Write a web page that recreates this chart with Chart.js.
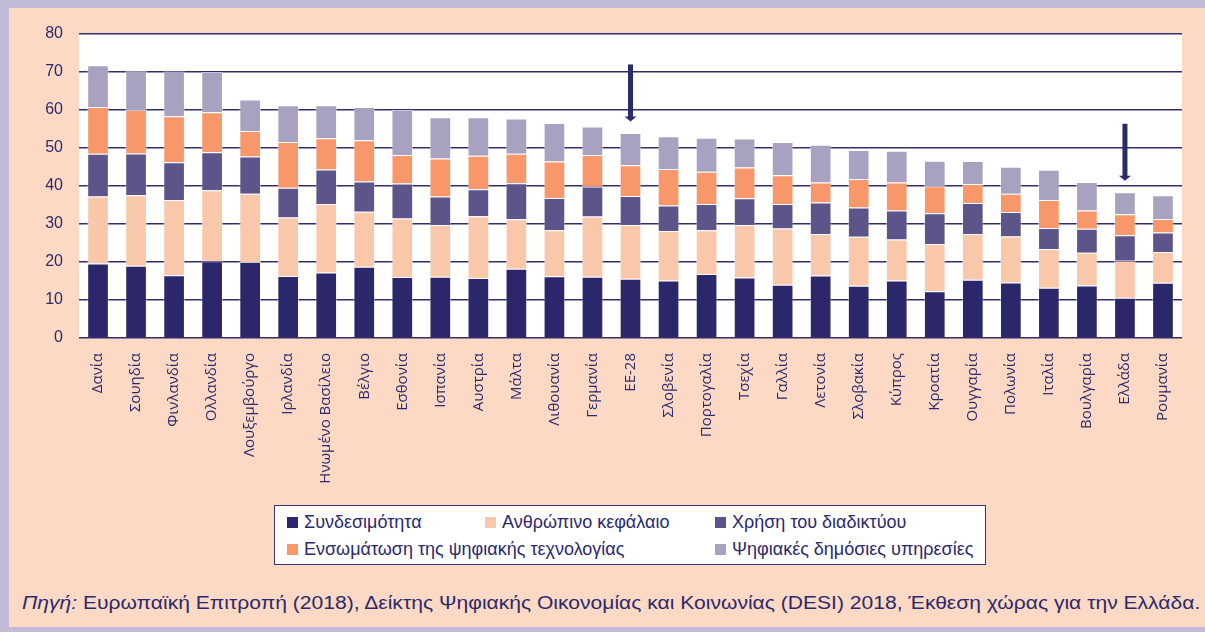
<!DOCTYPE html>
<html>

<head>
    <meta charset="utf-8">
    <title>DESI 2018</title>
    <script src="https://cdn.jsdelivr.net/npm/chart.js"></script>
    <style>
        html, body {
            margin: 0;
            padding: 0;
            width: 1205px;
            height: 632px;
            background: #c1bbd6;
            overflow: hidden;
            font-family: "Liberation Sans", Arial, sans-serif;
            color: #2b2a6b;
        }

        #panel {
            position: absolute;
            left: 9px;
            top: 8px;
            width: 1196px;
            height: 619px;
            background: #fcd9c4;
        }

        #chartContainer {
            position: absolute;
            left: 0;
            top: 0;
            width: 1196px;
            height: 492px;
        }

        #legend {
            position: absolute;
            left: 265px;
            top: 497px;
            width: 712px;
            height: 60px;
            background: #fff;
            border: 1.5px solid #3a3572;
            box-sizing: border-box;
            display: grid;
            grid-template-columns: 198px 230px auto;
            grid-template-rows: 27px 27px;
            padding: 3px 0 0 12px;
            font-size: 18px;
        }

        .item {
            display: flex;
            align-items: center;
            white-space: nowrap;
        }

        .item span.box {
            width: 11px;
            height: 11px;
            margin-right: 6px;
            display: inline-block;
        }

        #source {
            position: absolute;
            left: 13px;
            top: 585px;
            font-size: 18px;
            white-space: nowrap;
            transform: scaleX(1.17);
            transform-origin: left center;
        }
    </style>
</head>

<body>
    <div id="panel">
        <div id="chartContainer"><canvas id="myChart"></canvas></div>
        <div id="legend"></div>
        <div id="source"><i>Πηγή:</i> Ευρωπαϊκή Επιτροπή (2018), Δείκτης Ψηφιακής Οικονομίας και Κοινωνίας (DESI) 2018, Έκθεση χώρας για την Ελλάδα.</div>
    </div>

    <script>
        // χώρες
        const countries = ['Δανία', 'Σουηδία', 'Φινλανδία', 'Ολλανδία', 'Λουξεμβούργο', 'Ιρλανδία', 'Ηνωμένο Βασίλειο',
            'Βέλγιο', 'Εσθονία', 'Ισπανία', 'Αυστρία', 'Μάλτα', 'Λιθουανία', 'Γερμανία', 'ΕΕ-28', 'Σλοβενία',
            'Πορτογαλία', 'Τσεχία', 'Γαλλία', 'Λετονία', 'Σλοβακία', 'Κύπρος', 'Κροατία', 'Ουγγαρία', 'Πολωνία',
            'Ιταλία', 'Βουλγαρία', 'Ελλάδα', 'Ρουμανία'];

        // τιμές ανά διάσταση
        const connectivity = [19.6, 19.0, 16.5, 20.2, 20.0, 16.3, 17.2, 18.7, 16.0, 16.1, 15.8, 18.2, 16.2, 16.1, 15.6,
            15.1, 16.8, 15.9, 14.0, 16.4, 13.7, 15.1, 12.3, 15.3, 14.6, 13.2, 13.8, 10.6, 14.5];
        const humanCapital = [17.6, 18.5, 19.8, 18.6, 17.9, 15.4, 18.0, 14.5, 15.4, 13.6, 16.2, 13.0, 12.1, 15.8, 14.1,
            13.0, 11.5, 13.8, 14.8, 10.9, 12.9, 10.8, 12.4, 12.0, 12.1, 10.2, 8.6, 9.7, 8.1];
        const internetUse = [11.2, 11.0, 9.9, 10.0, 9.8, 7.8, 9.1, 7.9, 9.2, 7.5, 7.1, 9.5, 8.5, 7.9, 7.6,
            6.7, 6.9, 7.0, 6.4, 8.3, 7.7, 7.6, 8.1, 8.2, 6.4, 5.5, 6.3, 6.7, 5.1];
        const integration = [12.3, 11.4, 12.1, 10.5, 6.7, 12.0, 8.2, 10.9, 7.5, 10.0, 8.8, 7.7, 9.6, 8.3, 8.1,
            9.6, 8.5, 8.1, 7.6, 5.3, 7.5, 7.4, 7.1, 5.0, 4.8, 7.4, 4.8, 5.5, 3.6];
        const publicServices = [11.0, 10.5, 11.8, 10.6, 8.3, 9.7, 8.7, 8.7, 11.8, 10.8, 10.1, 9.3, 10.1, 7.5, 8.5,
            8.6, 8.9, 7.6, 8.7, 9.9, 7.6, 8.3, 6.7, 6.0, 7.1, 7.9, 7.5, 5.8, 6.2];

        const seriesLabels = ['Συνδεσιμότητα', 'Ανθρώπινο κεφάλαιο', 'Χρήση του διαδικτύου',
            'Ενσωμάτωση της ψηφιακής τεχνολογίας', 'Ψηφιακές δημόσιες υπηρεσίες'];
        const yTicks = [0, 10, 20, 30, 40, 50, 60, 70, 80];
        const arrowTargets = ['ΕΕ-28', 'Ελλάδα'];

        const NAVY = '#2b2a6b';
        const colors = ['#2c266a', '#f9c7aa', '#5d5489', '#f7976a', '#a9a1c0'];
        const seriesData = [connectivity, humanCapital, internetUse, integration, publicServices];

        // λευκό φόντο στην περιοχή του γραφήματος
        const plotBg = {
            id: 'plotBg',
            beforeDraw(chart) {
                const a = chart.chartArea;
                chart.ctx.save();
                chart.ctx.fillStyle = '#ffffff';
                chart.ctx.fillRect(a.left, a.top, a.right - a.left, a.bottom - a.top);
                chart.ctx.restore();
            }
        };

        // βέλη πάνω από ΕΕ-28 και Ελλάδα
        const arrows = {
            id: 'arrows',
            afterDatasetsDraw(chart) {
                const ctx = chart.ctx;
                const xs = chart.scales.x, ys = chart.scales.y;
                ctx.save();
                ctx.fillStyle = NAVY;
                arrowTargets.forEach(name => {
                    const i = countries.indexOf(name);
                    const total = seriesData.reduce((s, d) => s + d[i], 0);
                    const x = xs.getPixelForValue(i);
                    const tip = ys.getPixelForValue(total + 3);
                    const top = ys.getPixelForValue(total + 18);
                    ctx.fillRect(x - 2.5, top, 5, tip - top - 4);
                    ctx.beginPath();
                    ctx.moveTo(x - 6, tip - 5);
                    ctx.lineTo(x + 6, tip - 5);
                    ctx.lineTo(x, tip);
                    ctx.closePath();
                    ctx.fill();
                });
                ctx.restore();
            }
        };

        const ctx = document.getElementById('myChart').getContext('2d');
        const myChart = new Chart(ctx, {
            type: 'bar',
            data: {
                labels: countries,
                datasets: seriesData.map((d, k) => ({
                    label: seriesLabels[k],
                    data: d,
                    backgroundColor: colors[k],
                    borderColor: 'rgba(255,255,255,0.45)',
                    borderWidth: 1,
                    barPercentage: 0.57,
                    categoryPercentage: 1
                }))
            },
            options: {
                responsive: true,
                maintainAspectRatio: false,
                animation: false,
                layout: { padding: { top: 24, right: 23, left: 0, bottom: 0 } },
                plugins: {
                    legend: { display: false },
                    tooltip: { enabled: false }
                },
                scales: {
                    x: {
                        stacked: true,
                        grid: { display: false },
                        border: { display: false },
                        ticks: {
                            color: NAVY,
                            font: { family: '"Open Sans", sans-serif', size: 15 },
                            minRotation: 90,
                            maxRotation: 90,
                            autoSkip: false,
                            padding: 7
                        },
                        afterFit(scale) { scale.height = 162; }
                    },
                    y: {
                        stacked: true,
                        min: 0,
                        max: 80,
                        afterBuildTicks(scale) { scale.ticks = yTicks.map(v => ({ value: v })); },
                        grid: { color: '#332d6e', lineWidth: 1.6, drawTicks: false },
                        border: { display: false },
                        ticks: {
                            color: NAVY,
                            font: { family: '"Liberation Sans", Arial, sans-serif', size: 16 },
                            padding: 16
                        },
                        afterFit(scale) { scale.width = 70; }
                    }
                }
            },
            plugins: [plotBg, arrows]
        });

        // υπόμνημα
        const legendEl = document.getElementById('legend');
        const cols = ['1', '2', '3', '1 / span 2', '3'];
        myChart.data.datasets.forEach((ds, k) => {
            const div = document.createElement('div');
            div.className = 'item';
            div.style.gridColumn = cols[k];
            div.innerHTML = '<span class="box" style="background:' + ds.backgroundColor + '"></span>' + ds.label;
            legendEl.appendChild(div);
        });
    </script>
</body>

</html>
